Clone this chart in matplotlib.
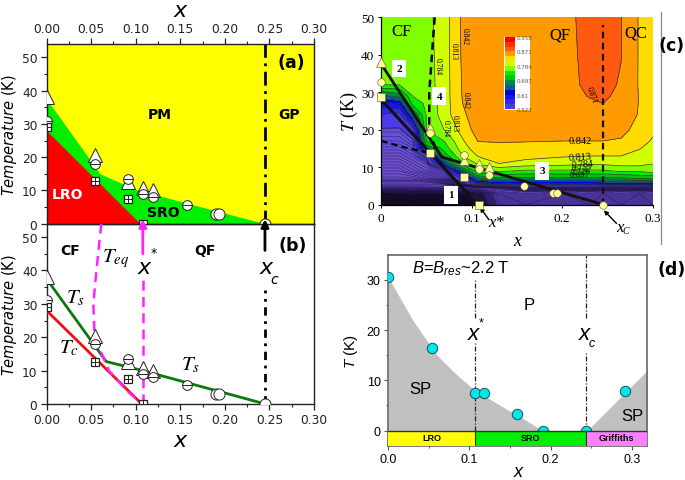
"""Phase diagrams, panels (a)-(d): T vs x."""

import matplotlib
matplotlib.use("Agg")
import matplotlib.pyplot as plt
import numpy as np
from matplotlib.colors import ListedColormap, BoundaryNorm
from matplotlib.lines import Line2D
from matplotlib.ticker import MultipleLocator, FixedLocator, FormatStrFormatter

plt.rcParams["font.family"] = "DejaVu Sans"
plt.rcParams["mathtext.fontset"] = "custom"
plt.rcParams["mathtext.rm"] = "Liberation Sans"
plt.rcParams["mathtext.it"] = "Liberation Sans:italic"

W, H = 685, 481

# data (a), (b)
tri_x = [0.0, 0.054, 0.091, 0.108, 0.119]
tri_t = [38, 20.5, 12.5, 10.8, 10]
circ_x = [0.0, 0.054, 0.091, 0.108, 0.119, 0.158]
circ_t = [31, 18, 13.5, 9, 8, 5.7]
open_x = [0.19, 0.194, 0.245]
open_t = [3, 3, 0]
sq_x = [0.0, 0.054, 0.091, 0.108]
sq_t = [29, 12.7, 7.5, 0]

sro_x = [0.0, 0.06, 0.10, 0.16, 0.245]
sro_t = [37.5, 15, 10.3, 6, 0]
lro_x = [0.0, 0.105]
lro_t = [28, 0]
xstar = 0.108
xc = 0.245

ts_x = [0.0, 0.067, 0.108, 0.16, 0.24]
ts_t = [37.5, 12.7, 10, 6.2, 0.4]
tc_x = [0.0, 0.105]
tc_t = [28, 0.5]
teq_x = [0.0615, 0.056, 0.0525, 0.054, 0.07, 0.09, 0.105]
teq_t = [54, 40, 30, 20, 10, 4, 0.5]

# panel (c)
c_x = [0.0, 0.02, 0.035, 0.05, 0.07, 0.09, 0.107, 0.13, 0.16, 0.2, 0.23, 0.245, 0.265, 0.285, 0.3]
c_t = [0, 3, 4.5, 5.5, 7, 9, 11, 13, 15, 17, 20, 24, 27, 29, 32, 40, 50]
c_z = [
    [.15, .18, .15, .18, .15, .18, .2, .38, .40, .38, .40, .38, .40, .38, .40],
    [.20, .18, .22, .18, .22, .20, .26, .40, .42, .40, .42, .40, .42, .40, .42],
    [.40, .40, .40, .40, .41, .42, .44, .46, .50, .50, .50, .50, .50, .50, .50],
    [.44, .44, .44, .44, .45, .50, .58, .60, .60, .60, .60, .61, .61, .61, .61],
    [.46, .46, .46, .47, .50, .56, .67, .69, .69, .69, .69, .69, .69, .70, .70],
    [.47, .47, .48, .49, .52, .66, .745, .76, .75, .75, .75, .75, .76, .76, .77],
    [.48, .48, .49, .50, .64, .75, .79, .813, .80, .795, .79, .79, .795, .795, .785],
    [.49, .49, .50, .53, .71, .784, .815, .83, .825, .816, .813, .813, .813, .80, .79],
    [.50, .50, .51, .67, .74, .80, .83, .838, .835, .83, .828, .828, .825, .815, .80],
    [.51, .51, .52, .73, .756, .81, .843, .843, .843, .842, .842, .842, .84, .825, .81],
    [.52, .52, .54, .755, .785, .825, .855, .856, .856, .856, .858, .858, .848, .835, .818],
    [.55, .54, .66, .758, .80, .838, .855, .86, .86, .861, .866, .868, .858, .84, .825],
    [.60, .61, .74, .76, .80, .842, .856, .86, .86, .862, .868, .871, .862, .841, .828],
    [.66, .68, .756, .765, .80, .844, .856, .86, .86, .862, .872, .876, .864, .841, .83],
    [.755, .756, .76, .77, .80, .845, .856, .86, .86, .862, .876, .88, .868, .84, .83],
    [.76, .76, .76, .772, .80, .847, .855, .86, .86, .862, .878, .885, .872, .84, .83],
    [.76, .76, .76, .775, .80, .848, .86, .86, .86, .862, .88, .888, .872, .84, .83],
]
c_levels = [.523, .552, .581, .610, .639, .668, .697, .726, .755, .784, .813, .842, .871, .900, .929, .958]
c_colors = ["#4d3ae8", "#3026ee", "#1414f0", "#0000d8", "#00608a", "#008a4a", "#00c800",
            "#00ee00", "#80ff00", "#d2ff00", "#ffdc00", "#ff9a00", "#ff5a10", "#ff3000", "#ff0000"]
c_dark_levels = [.10, .22, .30, .36, .42, .46, .50]
c_dark = ["#120a20", "#1e1238", "#33206a", "#4a3296", "#5f44b8", "#6c50cc", "#6450dc"]
c_cb_ticks = [.523, .61, .697, .784, .871, .958]
c_labels = [("0.842", .22, 17.2, 0, 7.5), ("0.813", .22, 12.7, 4, 7.5), ("0.784", .222, 10.8, 4, 7),
            ("0.755", .221, 9.9, 4, 6.5), ("0.726", .22, 9.0, 4, 6.5), ("0.697", .219, 8.1, 3, 6.5),
            ("0.842", .0925, 45, -90, 5.5), ("0.813", .08, 41, -90, 5.5), ("0.784", .0625, 37, -90, 5.5),
            ("0.842", .0935, 28, -90, 5.5), ("0.813", .0815, 22, -90, 5.5), ("0.784", .0715, 20.5, -90, 5.5),
            ("0.871", .232, 29.5, -70, 5.5)]

c_tri_x = [0.0, 0.054, 0.091, 0.108, 0.119]
c_tri_t = [38, 20.5, 12, 10.8, 10]
c_circ_x = [0.0, 0.054, 0.091, 0.108, 0.119, 0.158, 0.19, 0.194, 0.245]
c_circ_t = [32.8, 19.2, 13.2, 9.5, 8, 5, 3, 3, 0]
c_sq_x = [0.0, 0.054, 0.091, 0.108]
c_sq_t = [28.7, 13.7, 7.5, 0]

# panel (d)
d_x = [0.0, 0.054, 0.107, 0.118, 0.158, 0.19, 0.243, 0.292]
d_t = [30.5, 16.4, 7.5, 7.5, 3.4, 0, 0, 7.9]
d_left_x = [0.0, 0.03, 0.06, 0.085, 0.107, 0.14, 0.165, 0.19]
d_left_t = [30.5, 22, 15, 11, 8, 4.8, 2.5, 0]
d_right_x = [0.245, 0.319]
d_right_t = [0, 12]
d_bands = [(0.0, 0.107, "#ffff00", "LRO"), (0.107, 0.243, "#00ee00", "SRO"),
           (0.243, 0.319, "#ff80ff", "Griffiths")]
d_vlines = [(0.107, 0, 17.5), (0.107, 22.5, 30), (0.243, 0, 15.5), (0.243, 22.5, 35)]


def px_axes(fig, left, top, right, bottom):
    return fig.add_axes([left / W, 1 - bottom / H, (right - left) / W, (bottom - top) / H])


def draw_markers(ax):
    ax.plot(tri_x, tri_t, "^", ms=10, mfc="white", mec="#222222", mew=0.7, ls="none", zorder=5)
    ax.plot(circ_x, circ_t, "o", ms=7, mfc="white", mec="#222222", mew=0.7, ls="none", zorder=5)
    ax.plot(circ_x, circ_t, "_", ms=7, mec="#222222", mew=0.7, ls="none", zorder=6)
    ax.plot(open_x, open_t, "o", ms=8, mfc="white", mec="#222222", mew=0.7, ls="none", zorder=5)
    ax.plot(sq_x, sq_t, "s", ms=6, mfc="white", mec="#222222", mew=0.9, ls="none", zorder=5)
    ax.plot(sq_x, sq_t, "+", ms=6, mec="#222222", mew=0.7, ls="none", zorder=6)


def style_left(ax):
    ax.set_xlim(0, 0.30)
    ax.set_ylim(0, 54)
    ax.xaxis.set_major_locator(MultipleLocator(0.05))
    ax.xaxis.set_minor_locator(MultipleLocator(0.025))
    ax.xaxis.set_major_formatter(FormatStrFormatter("%.2f"))
    ax.yaxis.set_major_locator(MultipleLocator(10))
    ax.yaxis.set_minor_locator(MultipleLocator(5))
    ax.tick_params(which="major", length=4, width=0.9, labelsize=8.8, pad=2.5, colors="#222222")
    ax.tick_params(which="minor", length=2.5, width=0.8, colors="#222222")
    ax.set_ylabel(r"$\mathit{Temperature}$ (K)", fontsize=10.5, labelpad=2,
                  math_fontfamily="dejavusans")
    for s in ax.spines.values():
        s.set_linewidth(1.0)
        s.set_color("#222222")


def panel_a(ax):
    ax.set_facecolor("#ffff00")
    ax.fill_between(sro_x, sro_t, color="#00ee00", lw=0)
    ax.fill_between(lro_x, lro_t, color="#ff0000", lw=0)
    ax.plot([xc, xc], [0, 54], color="black", lw=2, ls=(0, (5, 2, 1, 2)))
    draw_markers(ax)
    style_left(ax)
    ax.xaxis.tick_top()
    ax.tick_params(axis="x", which="both", bottom=False)
    ax.set_xlabel("x", fontsize=16, style="italic", labelpad=4)
    ax.xaxis.set_label_position("top")
    ax.text(0.127, 33, "PM", fontweight="bold", fontsize=10, ha="center", va="center")
    ax.text(0.272, 33, "GP", fontweight="bold", fontsize=10, ha="center", va="center")
    ax.text(0.024, 8.8, "LRO", fontweight="bold", fontsize=10, color="white", ha="center", va="center")
    ax.text(0.131, 3.5, "SRO", fontweight="bold", fontsize=10, ha="center", va="center")
    ax.text(0.275, 48.5, "(a)", fontweight="bold", fontsize=12.5, ha="center", va="center")


def panel_b(ax):
    ax.plot(ts_x, ts_t, color="#0a7a0a", lw=2, zorder=3)
    ax.plot(tc_x, tc_t, color="#ee1111", lw=2, zorder=3)
    ax.plot(teq_x, teq_t, color="#ff22ff", lw=1.8, ls=(0, (4, 2.5)), zorder=4)
    ax.plot([xstar, xstar], [0, 39], color="#ff22ff", lw=1.8, ls=(0, (4, 2.5)), zorder=4)
    ax.plot([xc, xc], [0, 34], color="black", lw=2, ls=(0, (3, 2, 1, 2)), zorder=2)
    arrow = dict(arrowstyle="-|>", lw=2, mutation_scale=11, shrinkA=0, shrinkB=0, clip_on=False)
    ax.annotate("", xy=(xstar, 55.3), xytext=(xstar, 45), annotation_clip=False,
                arrowprops=dict(arrow, color="#ff22ff"), zorder=7)
    ax.annotate("", xy=(xc, 55.3), xytext=(xc, 46), annotation_clip=False,
                arrowprops=dict(arrow, color="black"), zorder=7)
    draw_markers(ax)
    style_left(ax)
    ax.set_xlabel("x", fontsize=16, style="italic", labelpad=3)
    ax.text(0.026, 46, "CF", fontweight="bold", fontsize=10, ha="center", va="center")
    ax.text(0.178, 46, "QF", fontweight="bold", fontsize=10, ha="center", va="center")
    ax.text(0.276, 47.5, "(b)", fontweight="bold", fontsize=12.5, ha="center", va="center")
    for lab, lx, ly, fs in [(r"$T_{eq}$", 0.077, 44, 15), (r"$T_s$", 0.032, 32, 15),
                            (r"$T_c$", 0.025, 17, 15), (r"$T_s$", 0.161, 12, 15)]:
        ax.text(lx, ly, lab, fontsize=fs, ha="center", va="center", math_fontfamily="stix")
    ax.text(0.110, 41, "x", fontsize=16, style="italic", ha="center", va="center")
    ax.text(0.120, 45.5, "*", fontsize=9, ha="center", va="center")
    ax.text(0.246, 41, "x", fontsize=16, style="italic", ha="center", va="center")
    ax.text(0.2555, 37.5, "c", fontsize=10, style="italic", ha="center", va="center")


def panel_c(ax, fig):
    serif = "Liberation Serif"
    z = np.array(c_z)
    xx, tt = np.meshgrid(c_x, c_t)
    levels = c_dark_levels + c_levels
    colors = c_dark + c_colors
    cmap = ListedColormap(colors)
    norm = BoundaryNorm(levels, cmap.N)
    ax.contourf(xx, tt, z, levels=levels, cmap=cmap, norm=norm)
    fine = np.concatenate([np.arange(0.10, 0.45, 0.02), np.arange(0.45, 0.523, 0.004)])
    ax.contour(xx, tt, z, levels=fine, colors="#20124c", linewidths=0.3)
    ax.contour(xx, tt, z, levels=c_levels[:-1], colors="#333333", linewidths=0.5)
    for txt, lx, ly, rot, fs in c_labels:
        ax.text(lx, ly, txt, fontsize=fs, rotation=rot, ha="center", va="center", family=serif)

    ax.plot([0.059, 0.053, 0.053, 0.06], [50, 30, 21, 14.5], color="black", lw=1.8, ls=(0, (3, 2)))
    ax.plot([0.0, 0.03, 0.05], [17, 15, 14], color="black", lw=1.5, ls=(0, (3, 2)))
    ax.plot([xc, xc], [0, 48], color="#111111", lw=1.6, ls=(0, (3, 2)))
    ax.plot(ts_x[:2] + ts_x[4:], ts_t[:2] + ts_t[4:], color="#111111", lw=2)
    ax.plot(tc_x, tc_t, color="#111111", lw=2.2)

    pale = "#ffff99"
    ax.plot(c_tri_x, c_tri_t, "^", ms=6.5, mfc=pale, mec="#555533", mew=0.4, ls="none", clip_on=False, zorder=5)
    ax.plot(c_circ_x, c_circ_t, "o", ms=5.5, mfc=pale, mec="#555533", mew=0.4, ls="none", clip_on=False, zorder=5)
    ax.plot(c_sq_x, c_sq_t, "s", ms=5.5, mfc=pale, mec="#555533", mew=0.4, ls="none", clip_on=False, zorder=5)

    for num, lx, ly in [("1", .077, 2.6), ("2", .02, 36.3), ("3", .178, 9), ("4", .064, 29)]:
        ax.text(lx, ly, num, fontsize=8, fontweight="bold", family=serif, ha="center", va="center",
                bbox=dict(fc="white", ec="none", pad=3), zorder=6)
    for txt, lx, ly in [("CF", .0225, 46.3), ("QF", .197, 45.5), ("QC", .281, 46)]:
        ax.text(lx, ly, txt, fontsize=12, family=serif, ha="center", va="center")

    ax.set_xlim(0, 0.3)
    ax.set_ylim(0, 50)
    ax.set_xticks([0, 0.1, 0.2, 0.3], ["0", "0.1", "0.2", "0.3"])
    ax.set_yticks([0, 10, 20, 30, 40, 50])
    ax.tick_params(length=2, width=0.7, labelsize=9.5, pad=3)
    for t in ax.get_xticklabels() + ax.get_yticklabels():
        t.set_family(serif)
    for name, s in ax.spines.items():
        s.set_visible(name in ("left", "bottom"))
        s.set_linewidth(0.9)
    ax.set_xlabel("x", fontsize=13, style="italic", family=serif, labelpad=6)
    ax.set_ylabel(r"$T$ (K)", fontsize=13, family=serif, labelpad=1, math_fontfamily="stix")

    arrow = dict(arrowstyle="-|>", lw=1, color="black", mutation_scale=6, shrinkA=0, shrinkB=0)
    ax.annotate("", xy=(0.109, -0.7), xytext=(0.119, -4), annotation_clip=False, arrowprops=arrow)
    ax.annotate("", xy=(0.246, -1.5), xytext=(0.26, -5), annotation_clip=False, arrowprops=arrow)
    ax.text(0.127, -4.5, "x*", fontsize=12, style="italic", family=serif, ha="center", va="center", clip_on=False)
    ax.text(0.264, -6, "x", fontsize=12, style="italic", family=serif, ha="center", va="center", clip_on=False)
    ax.text(0.27, -7, "C", fontsize=7, style="italic", family=serif, ha="center", va="center", clip_on=False)

    # little colour key inside the plot
    cb_bg = px_axes(fig, 504, 37.5, 530, 111)
    cb_bg.set_xticks([])
    cb_bg.set_yticks([])
    cb_bg.set_facecolor("white")
    for s in cb_bg.spines.values():
        s.set_visible(False)
    cb = px_axes(fig, 505, 38, 515, 110)
    cb.pcolormesh([0, 1], c_levels, np.arange(len(c_colors))[:, None], cmap=ListedColormap(c_colors), shading="flat")
    cb.set_xticks([])
    cb.set_yticks(c_cb_ticks, [f"{v:.3g}" for v in c_cb_ticks])
    cb.yaxis.tick_right()
    cb.tick_params(length=0, labelsize=4, pad=1, labelcolor="#555555")
    for s in cb.spines.values():
        s.set_visible(False)


def panel_d(ax):
    sans = "Liberation Sans"
    ax.fill_between(d_left_x, d_left_t, color="#c0c0c0", lw=0, zorder=1)
    ax.fill_between(d_right_x, d_right_t, color="#c0c0c0", lw=0, zorder=1)
    for v, t0, t1 in d_vlines:
        ax.plot([v, v], [t0, t1], color="#222222", lw=0.9, ls=(0, (4, 1.5, 1, 1.5)), zorder=2)
    ax.plot(d_x, d_t, "o", ms=7.5, mfc="#00e5ee", mec="#115555", mew=0.7, ls="none", zorder=3)
    for x0, x1, col, lab in d_bands:
        ax.fill_between([x0, x1], -3, 0, color=col, lw=0, zorder=4)
        ax.text((x0 + x1) / 2, -1.4, lab, fontsize=6.5, fontweight="bold", family=sans,
                ha="center", va="center", zorder=6)
        ax.plot([x1, x1], [-3, 0], color="#333333", lw=0.8, zorder=5)
    ax.axhline(0, color="#333333", lw=1, zorder=5)
    ax.set_xlim(0, 0.319)
    ax.set_ylim(-3, 35)
    ax.xaxis.set_major_locator(FixedLocator([0.0, 0.1, 0.2, 0.3]))
    ax.xaxis.set_major_formatter(FormatStrFormatter("%.1f"))
    ax.xaxis.set_minor_locator(MultipleLocator(0.05))
    ax.yaxis.set_major_locator(FixedLocator([0, 10, 20, 30]))
    ax.yaxis.set_minor_locator(FixedLocator([5, 15, 25]))
    ax.tick_params(which="major", length=3, width=0.8, labelsize=9, pad=2.5, color="#555555")
    ax.tick_params(which="minor", length=1.5, width=0.7, color="#555555")
    for t in ax.get_xticklabels() + ax.get_yticklabels():
        t.set_family(sans)
    for s in ax.spines.values():
        s.set_color("#666666")
        s.set_linewidth(1.2)
    ax.set_xlabel("x", fontsize=13, style="italic", family=sans, labelpad=-2)
    ax.set_ylabel(r"$\mathit{T}$ (K)", fontsize=11, family=sans, labelpad=5)
    ax.text(0.029, 32.4, r"$\mathit{B}$=$\mathit{B}_{res}$~2.2 T", fontsize=12, family=sans, va="center")
    ax.text(0.1735, 25, "P", fontsize=12, family=sans, ha="center", va="center")
    ax.text(0.04, 8.4, "SP", fontsize=12, family=sans, ha="center", va="center")
    ax.text(0.3, 3.1, "SP", fontsize=12, family=sans, ha="center", va="center")
    for lx, ly in [(0.1045, 19.3), (0.241, 19.3)]:
        ax.text(lx, ly, "x", fontsize=16, style="italic", family=sans, ha="center", va="center", zorder=6)
    ax.text(0.115, 21.6, "*", fontsize=9, family=sans, ha="center", va="center", zorder=6)
    ax.text(0.2508, 17.4, "c", fontsize=9, style="italic", family=sans, ha="center", va="center", zorder=6)


def main():
    fig = plt.figure(figsize=(W / 100, H / 100), dpi=100)

    ax_a = px_axes(fig, 46.5, 45, 314, 224.7)
    ax_b = px_axes(fig, 46.5, 224.7, 314, 405)
    ax_c = px_axes(fig, 381.3, 18.3, 652.7, 205.7)
    ax_d = px_axes(fig, 388.3, 255.7, 647.3, 446.7)
    ax_b.set_zorder(ax_a.get_zorder() + 1)
    ax_b.patch.set_alpha(0)

    panel_a(ax_a)
    panel_b(ax_b)
    panel_c(ax_c, fig)
    panel_d(ax_d)

    fig.text(672 / W, 1 - 46 / H, "(c)", fontsize=12.5, fontweight="bold", ha="center", va="center")
    fig.text(672 / W, 1 - 270 / H, "(d)", fontsize=12.5, fontweight="bold", ha="center", va="center")
    fig.add_artist(Line2D([660.7 / W, 660.7 / W], [1 - 13 / H, 1 - 245 / H], color="#888888", lw=0.9))

    fig.savefig("out.png", dpi=100)


if __name__ == "__main__":
    main()
